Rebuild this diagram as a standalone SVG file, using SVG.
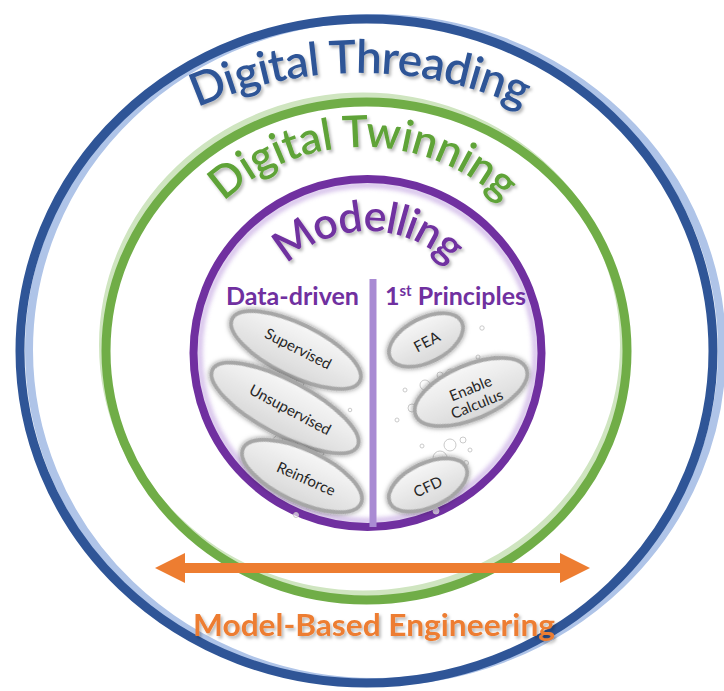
<svg xmlns="http://www.w3.org/2000/svg" width="724" height="691" viewBox="0 0 724 691">
  <defs>
    <style>
      .title { font-family: Lato, "Liberation Sans", sans-serif; font-weight: 600; }
      .head { font-family: Lato, "Liberation Sans", sans-serif; font-weight: 700; fill: #7030A0; font-size: 25px; }
      .pill { fill: url(#pillFill); stroke: #A6A6A6; stroke-width: 3.8; filter: url(#pillShadow); }
      .pill-txt { font-family: Lato, "Liberation Sans", sans-serif; font-size: 15px; fill: #262626; text-anchor: middle; }
      .bubble { fill: rgba(255,255,255,0.6); stroke: #C4C4C4; stroke-width: 0.9; }
    </style>
    <linearGradient id="pillFill" x1="0" y1="0" x2="0" y2="1">
      <stop offset="0" stop-color="#F7F7F7"/>
      <stop offset="1" stop-color="#D9D9D9"/>
    </linearGradient>
    <filter id="txtShadow" x="-10%" y="-20%" width="125%" height="150%">
      <feDropShadow dx="2" dy="2.5" stdDeviation="1.6" flood-color="#000" flood-opacity="0.28"/>
    </filter>
    <filter id="pillShadow" x="-20%" y="-40%" width="140%" height="180%">
      <feDropShadow dx="0" dy="0" stdDeviation="2.4" flood-color="#000" flood-opacity="0.5"/>
    </filter>
    <filter id="glow" x="-10%" y="-10%" width="120%" height="120%">
      <feGaussianBlur stdDeviation="2"/>
    </filter>
    <!-- baseline arcs for the curved ring titles -->
    <path id="arcThreading" d="M15.3,272 A398,398 0 0 1 704.7,272"/>
    <path id="arcTwinning" d="M185.5,249.5 A205,205 0 0 1 540.5,249.5"/>
    <path id="arcModelling" d="M269.3,288 A114,114 0 0 1 466.7,288"/>
    <marker id="arrowHead" viewBox="0 0 10 10" refX="3" refY="5" markerWidth="3.2" markerHeight="3" orient="auto-start-reverse" markerUnits="strokeWidth">
      <path d="M0,0 L10,5 L0,10 Z" fill="#ED7D31"/>
    </marker>
  </defs>

  <rect width="724" height="691" fill="#FFFFFF"/>

  <!-- outer ring: digital threading -->
  <g id="digital-threading">
    <ellipse cx="375.5" cy="350" rx="346.5" ry="332" fill="none" stroke="#AFC4E8" stroke-width="8"/>
    <ellipse cx="366.5" cy="351" rx="346.5" ry="332" fill="none" stroke="#2F5597" stroke-width="9"/>
    <text class="title" font-size="46" fill="#2F5597" filter="url(#txtShadow)">
      <textPath href="#arcThreading" startOffset="50%" text-anchor="middle" textLength="335" lengthAdjust="spacing">Digital Threading</textPath>
    </text>
  </g>

  <!-- middle ring: digital twinning -->
  <g id="digital-twinning">
    <ellipse cx="363" cy="345" rx="260.5" ry="249" fill="none" stroke="#CFE5C0" stroke-width="7"/>
    <ellipse cx="366.5" cy="351" rx="260.5" ry="249" fill="none" stroke="#70AD47" stroke-width="9"/>
    <text class="title" font-size="44" fill="#5FA337" filter="url(#txtShadow)">
      <textPath href="#arcTwinning" startOffset="50%" text-anchor="middle" textLength="306" lengthAdjust="spacing">Digital Twinning</textPath>
    </text>
  </g>

  <!-- inner ring: modelling -->
  <g id="modelling">
    <circle cx="367.5" cy="353" r="168" fill="none" stroke="#CDB4E6" stroke-width="6" opacity="0.8" filter="url(#glow)"/>
    <circle cx="367.5" cy="353" r="174" fill="none" stroke="#7030A0" stroke-width="8"/>
    <text class="title" font-size="43" fill="#7030A0" filter="url(#txtShadow)">
      <textPath href="#arcModelling" startOffset="50%" text-anchor="middle" textLength="180" lengthAdjust="spacing">Modelling</textPath>
    </text>
  </g>

  <!-- divider between the two model families -->
  <g id="divider">
    <line x1="373" y1="279" x2="373" y2="527" stroke="#A98BD3" stroke-width="7"/>
  </g>

  <!-- scattered bubbles -->
  <g id="bubbles">
    <circle class="bubble" cx="300" cy="383" r="4"/>
    <circle class="bubble" cx="291" cy="392" r="3"/>
    <circle class="bubble" cx="318" cy="373" r="2.5"/>
    <circle class="bubble" cx="330" cy="382" r="5"/>
    <circle class="bubble" cx="348" cy="367" r="2"/>
    <circle class="bubble" cx="305" cy="344" r="2"/>
    <circle class="bubble" cx="350" cy="410" r="1.8"/>
    <circle class="bubble" cx="278" cy="440" r="4.5"/>
    <circle class="bubble" cx="290" cy="450" r="6"/>
    <circle class="bubble" cx="308" cy="437" r="3"/>
    <circle class="bubble" cx="320" cy="452" r="4"/>
    <circle class="bubble" cx="296" cy="515" r="2.5"/>
    <circle class="bubble" cx="482" cy="328" r="2.2"/>
    <circle class="bubble" cx="478" cy="357" r="2"/>
    <circle class="bubble" cx="440" cy="375" r="3"/>
    <circle class="bubble" cx="425" cy="385" r="5"/>
    <circle class="bubble" cx="451" cy="375" r="6"/>
    <circle class="bubble" cx="405" cy="390" r="2"/>
    <circle class="bubble" cx="412" cy="408" r="4"/>
    <circle class="bubble" cx="397" cy="420" r="2"/>
    <circle class="bubble" cx="450" cy="445" r="6"/>
    <circle class="bubble" cx="440" cy="458" r="7"/>
    <circle class="bubble" cx="463" cy="440" r="3"/>
    <circle class="bubble" cx="470" cy="450" r="2"/>
    <circle class="bubble" cx="422" cy="446" r="2"/>
    <circle class="bubble" cx="466" cy="463" r="2.5"/>
    <circle class="bubble" cx="436" cy="511" r="3"/>
  </g>

  <!-- data-driven branch -->
  <g id="data-driven">
    <text class="head" x="226" y="305" textLength="133" lengthAdjust="spacingAndGlyphs">Data-driven</text>
  </g>
  <g id="supervised">
    <ellipse class="pill" cx="0" cy="0" rx="71" ry="26" transform="translate(296,350) rotate(26)"/>
    <text class="pill-txt" transform="translate(298,349) rotate(27)" dy="5">Supervised</text>
  </g>
  <g id="unsupervised">
    <ellipse class="pill" cx="0" cy="0" rx="82" ry="27" transform="translate(285,408) rotate(28)"/>
    <text class="pill-txt" transform="translate(290,410) rotate(28)" dy="5">Unsupervised</text>
  </g>
  <g id="reinforce">
    <ellipse class="pill" cx="0" cy="0" rx="65" ry="26" transform="translate(302,476) rotate(25)"/>
    <text class="pill-txt" transform="translate(306,479) rotate(24)" dy="5">Reinforce</text>
  </g>

  <!-- first-principles branch -->
  <g id="first-principles">
    <text class="head" x="385" y="305">1<tspan font-size="15" dy="-9">st</tspan><tspan dy="9"> Principles</tspan></text>
  </g>
  <g id="fea">
    <ellipse class="pill" cx="0" cy="0" rx="40" ry="22" transform="translate(426,340) rotate(-27)"/>
    <text class="pill-txt" transform="translate(427,342) rotate(-28)" dy="5">FEA</text>
  </g>
  <g id="enable-calculus">
    <ellipse class="pill" cx="0" cy="0" rx="60" ry="27" transform="translate(471,392) rotate(-23)"/>
    <text class="pill-txt" transform="translate(474,397) rotate(-22)"><tspan x="0" y="-4">Enable</tspan><tspan x="0" y="13">Calculus</tspan></text>
  </g>
  <g id="cfd">
    <ellipse class="pill" cx="0" cy="0" rx="42" ry="22" transform="translate(428,485) rotate(-25)"/>
    <text class="pill-txt" transform="translate(428,487) rotate(-25)" dy="5">CFD</text>
  </g>

  <!-- connectors -->
  <g id="connectors">
    <line x1="176" y1="568" x2="569" y2="568" stroke="#ED7D31" stroke-width="10" marker-start="url(#arrowHead)" marker-end="url(#arrowHead)"/>
  </g>

  <g id="model-based-engineering">
    <text x="193" y="636" font-family="Lato, 'Liberation Sans', sans-serif" font-weight="700" font-size="31" fill="#ED7D31" filter="url(#txtShadow)" textLength="362" lengthAdjust="spacingAndGlyphs">Model-Based Engineering</text>
  </g>
</svg>
